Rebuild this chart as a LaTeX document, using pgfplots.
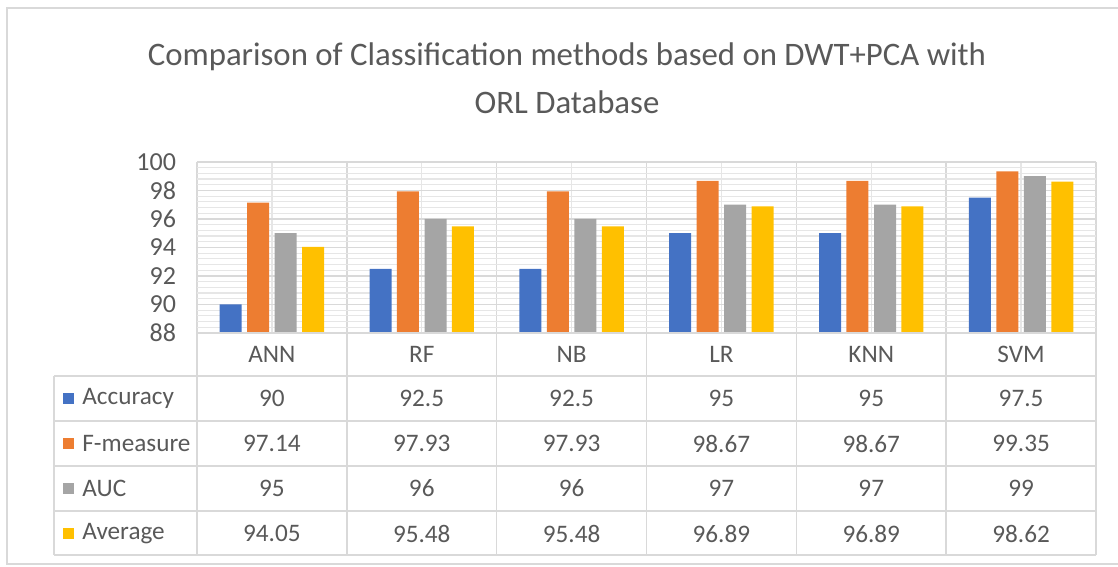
\documentclass[border=0pt]{standalone}
\usepackage{pgfplots}
\usepackage{pgfplotstable}
\usepackage{fontspec}
\setmainfont{Carlito}
\pgfplotsset{compat=1.18}
\definecolor{cacc}{HTML}{4472C4}
\definecolor{cf}{HTML}{ED7D31}
\definecolor{cauc}{HTML}{A5A5A5}
\definecolor{cavg}{HTML}{FFC000}
\definecolor{txt}{HTML}{595959}
\definecolor{gridmaj}{HTML}{D9D9D9}
\definecolor{gridmin}{HTML}{E6E6E6}
\pgfplotstableread{
x label acc f auc avg
0 ANN 90 97.14 95 94.05
1 RF 92.5 97.93 96 95.48
2 NB 92.5 97.93 96 95.48
3 LR 95 98.67 97 96.89
4 KNN 95 98.67 97 96.89
5 SVM 97.5 99.35 99 98.62
}\data
\begin{document}
\begin{tikzpicture}
\path[use as bounding box] (0,0) rectangle (559pt,283.5pt);
\begin{axis}[
  at={(98.5pt,117pt)}, anchor=south west,
  scale only axis, width=449.5pt, height=85.5pt,
  xmin=-0.5, xmax=5.5, ymin=88, ymax=100,
  ytick={88,90,...,100},
  xtick={-0.5,0.5,...,5.5}, xticklabels={},
  minor xtick={0,1,...,5},
  minor y tick num=4,
  grid=both,
  major grid style={draw=gridmaj, line width=0.8pt},
  minor grid style={draw=gridmin, line width=0.6pt},
  axis line style={draw=none},
  major tick length=0pt, minor tick length=0pt,
  yticklabel style={font=\fontsize{13}{15}\selectfont, text=txt, xshift=-7pt},
  /pgf/number format/assume math mode=true,
]
\addplot[ybar, bar width=0.147, bar shift=-0.275, fill=cacc, draw=none] table[x=x,y=acc]{\data};
\addplot[ybar, bar width=0.147, bar shift=-0.092, fill=cf, draw=none] table[x=x,y=f]{\data};
\addplot[ybar, bar width=0.147, bar shift=0.092, fill=cauc, draw=none] table[x=x,y=auc]{\data};
\addplot[ybar, bar width=0.147, bar shift=0.275, fill=cavg, draw=none] table[x=x,y=avg]{\data};
\end{axis}
\begin{scope}[x=0.5pt, y=-0.5pt, yshift=283.5pt]
  % outer border
  \draw[gridmaj, line width=1pt] (1118,8) -- (7,8) -- (7,564) -- (1118,564);
  % title
  \node[text=txt, font=\fontsize{16.4}{20}\selectfont] at (567,57) {Comparison of Classification methods based on DWT+PCA with};
  \node[text=txt, font=\fontsize{16.4}{20}\selectfont] at (567,102) {ORL Database};
  % table lines
  \foreach \yy in {376,421,466,511,555} \draw[gridmaj, line width=0.8pt] (54,\yy) -- (1096,\yy);
  \draw[gridmaj, line width=0.8pt] (197,333) -- (1096,333);
  \draw[gridmaj, line width=0.8pt] (54,376) -- (54,555);
  \foreach \k in {0,...,6} \draw[gridmaj, line width=0.8pt] ({197+149.83*\k},333) -- ({197+149.83*\k},555);
  % legend keys
  \fill[cacc] (63,393) rectangle (74,404);
  \fill[cf] (63,438) rectangle (74,449);
  \fill[cauc] (63,483) rectangle (74,494);
  \fill[cavg] (63,528) rectangle (74,539);
  \begin{scope}[every node/.style={text=txt, font=\fontsize{12.6}{15}\selectfont, anchor=west, inner sep=0pt}]
  \node at (82,398.5) {Accuracy};
  \node at (82,443.5) {F-measure};
  \node at (82,488.5) {AUC};
  \node at (82,533.5) {Average};
  \end{scope}
  \begin{scope}[every node/.style={text=txt, font=\fontsize{12.6}{15}\selectfont}]
  \foreach \i in {0,...,5} {
    \pgfplotstablegetelem{\i}{label}\of\data
    \node at ({197+149.83*(\i+0.5)},354.5) {\pgfplotsretval};
    \pgfplotstablegetelem{\i}{acc}\of\data
    \node at ({197+149.83*(\i+0.5)},398.5) {\pgfplotsretval};
    \pgfplotstablegetelem{\i}{f}\of\data
    \node at ({197+149.83*(\i+0.5)},443.5) {\pgfplotsretval};
    \pgfplotstablegetelem{\i}{auc}\of\data
    \node at ({197+149.83*(\i+0.5)},488.5) {\pgfplotsretval};
    \pgfplotstablegetelem{\i}{avg}\of\data
    \node at ({197+149.83*(\i+0.5)},533.5) {\pgfplotsretval};
  }
  \end{scope}
\end{scope}
\end{tikzpicture}
\end{document}
